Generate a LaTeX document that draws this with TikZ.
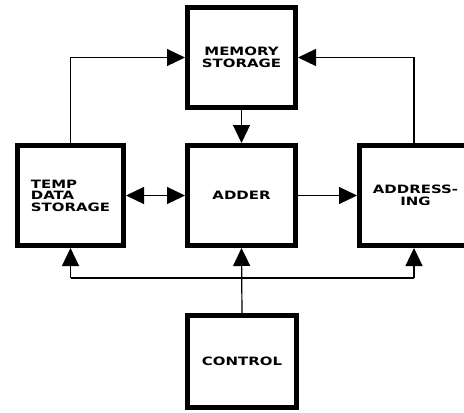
\documentclass[tikz,border=0pt]{standalone}
\usepackage{fontspec}
\newfontfamily\lblfont{DejaVu Sans}[FakeStretch=1.3]
\usetikzlibrary{arrows.meta}
\begin{document}
\begin{tikzpicture}[x=1pt,y=-1pt,
  blk/.style={draw, line width=5pt, minimum width=106pt, minimum height=100pt,
    inner sep=0pt, font=\lblfont\bfseries\fontsize{11.5}{11.5}\selectfont, align=center},
  conn/.style={line width=1.2pt, -{Triangle[length=18pt,width=17pt]}},
  wire/.style={line width=1.2pt}]
\useasboundingbox (0,0) rectangle (464,413);
\clip (0,0) rectangle (464,413);
\node[blk, minimum width=108pt] (mem) at (241.5,57.5) {MEMORY\\STORAGE};
\node[blk, minimum width=108pt] (add) at (241.5,195.5) {ADDER};
\node[blk, align=left] (temp) at (70.5,195.5) {TEMP\\DATA\\STORAGE};
\node[blk, minimum width=112pt] (addr) at (415.5,195.5) {ADDRESS-\\ING};
\node[blk, minimum width=109pt, minimum height=92pt] (ctl) at (242,361.5) {CONTROL};
\coordinate (bus) at (242,278);
\coordinate (ax) at (414,0);
\draw[conn] (temp.north) |- (mem.west);
\draw[conn] (addr.north -| ax) |- (mem.east);
\draw[conn] (mem.south) -- (add.north);
\draw[line width=1.2pt, {Triangle[length=18pt,width=17pt]}-{Triangle[length=18pt,width=17pt]}] (temp.east) -- (add.west);
\draw[conn] (add.east) -- (addr.west);
\draw[conn] (ctl.north) -- (add.south);
\draw[wire] (temp.south |- bus) -- (bus -| ax);
\draw[conn] (temp.south |- bus) -- (temp.south);
\draw[conn] (bus -| ax) -- (addr.south -| ax);
\end{tikzpicture}
\end{document}
